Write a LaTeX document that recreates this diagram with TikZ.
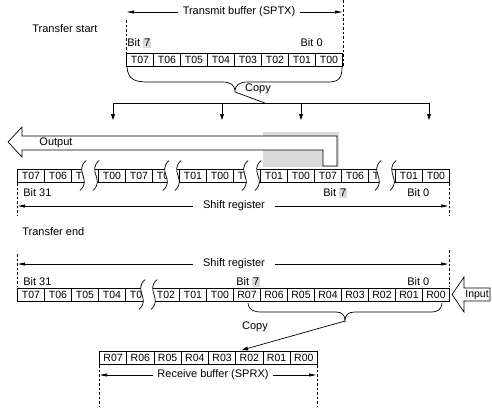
\documentclass[tikz,border=0pt]{standalone}
\usepackage{fontspec}
\setmainfont{Liberation Sans}
\usetikzlibrary{arrows.meta}

\definecolor{hlgray}{gray}{0.85}
\newcommand\hlbit[1]{{\setlength\fboxsep{0.8pt}\colorbox{hlgray}{#1}}}
% break in a register row: x of both cuts, y of the row
\newcommand\regbreak[3]{%
  \fill[white] ({#1+3},{#3-15}) .. controls ({#1-9},{#3-4}) and ({#1+9},{#3+4}) .. ({#1-3},{#3+15})
    -- ({#2-3},{#3+15}) .. controls ({#2+9},{#3+4}) and ({#2-9},{#3-4}) .. ({#2+3},{#3-15}) -- cycle;
  \draw ({#1+3},{#3-15}) .. controls ({#1-9},{#3-4}) and ({#1+9},{#3+4}) .. ({#1-3},{#3+15});
  \draw ({#2+3},{#3-15}) .. controls ({#2-9},{#3-4}) and ({#2+9},{#3+4}) .. ({#2-3},{#3+15});
}

\tikzset{
  cellbox/.style={draw, line width=1pt, inner sep=0pt, minimum width=27pt, minimum height=13pt,
    anchor=west, font=\fontsize{10.5}{12}\selectfont},
  lbl/.style={inner sep=0pt, font=\fontsize{11}{13}\selectfont},
  dimlab/.style={lbl, inner xsep=4pt},
  guide/.style={line width=0.7pt, dash pattern=on 2.5pt off 2pt},
  dimarrow/.style={-{Triangle[length=7pt,width=3pt]}},
  fanarrow/.style={-{Triangle[length=6pt,width=4pt]}},
}

\begin{document}
\begin{tikzpicture}[x=1pt,y=-1pt,line width=0.7pt]
\useasboundingbox (0,0) rectangle (492,407);

% transfer start
\node[lbl,anchor=west] (tstart) at (32,29) {Transfer start};

% transmit buffer
\foreach \lab [count=\i from 0] in {T07,T06,T05,T04,T03,T02,T01,T00}
  \node[cellbox] (tx\i) at ({126+27*\i},59.5) {\lab};
\draw[guide] (126,20) -- (126,67);
\draw[guide] (343,0) -- (343,66);
\coordinate (txL) at (127,12);
\coordinate (txR) at (342,12);
\node[dimlab] (txlab) at (239,12) {Transmit buffer (SPTX)};
\draw[dimarrow] (txlab) -- (txL);
\draw[dimarrow] (txlab) -- (txR);
\node[lbl,anchor=west] (txb7) at (127,43) {Bit \hlbit{7}};
\node[lbl,anchor=east] (txb0) at (323,43) {Bit 0};

% copy into the register
\coordinate (cpA) at (235,92);
\draw (127,67) .. controls (128,79) and (134,82) .. (148,82) -- (222,82)
  .. controls (231,82) and (235,85) .. (cpA) .. controls (235,85) and (239,82) .. (248,82)
  -- (328,82) .. controls (339,82) and (342,78) .. (342,67);
\node[lbl] (cp1) at (258,89) {Copy};
\coordinate (fan) at (265,103);
\draw (cpA) -- (fan);
\draw (113,103) -- (429,103);
\foreach \x [count=\k] in {113,222,301,429} {
  \coordinate (fa\k) at (\x,103);
  \coordinate (fb\k) at (\x,120);
  \draw[fanarrow] (fa\k) -- (fb\k);
}

% output
\fill[hlgray] (263,132) rectangle (339,167);
\draw[fill=white] (8,142) -- (22,127) -- (22,136) -- (337,136) -- (337,166) -- (323,166)
  -- (323,150) -- (22,150) -- (22,157) -- cycle;
\node[lbl] (outlab) at (56,143) {Output};

% shift register, transfer start
\foreach \lab [count=\i from 0] in {T07,T06,T05,T00,T07,T06,T01,T00,T07,T01,T00,T07,T06,T05,T01,T00}
  \node[cellbox] (sa\i) at ({17+27*\i},175.5) {\lab};
\regbreak{83}{96}{175.5}
\regbreak{166}{178}{175.5}
\regbreak{245}{258}{175.5}
\regbreak{378}{393}{175.5}
\node[lbl,anchor=west] (sab31) at (23,193) {Bit 31};
\node[lbl,anchor=west] (sab7) at (323,193) {Bit \hlbit{7}};
\node[lbl,anchor=west] (sab0) at (407,193) {Bit 0};
\draw[guide] (17,183) -- (17,216);
\draw[guide] (449,183) -- (449,216);
\coordinate (saL) at (18,206);
\coordinate (saR) at (448,206);
\node[dimlab,inner xsep=10pt] (salab) at (234,206) {Shift register};
\draw[dimarrow] (salab) -- (saL);
\draw[dimarrow] (salab) -- (saR);

% transfer end
\node[lbl,anchor=west] (tend) at (22,232) {Transfer end};

% shift register, transfer end
\draw[guide] (17,254) -- (17,287);
\draw[guide] (449,250) -- (449,287);
\coordinate (sbL) at (18,264);
\coordinate (sbR) at (448,264);
\node[dimlab,inner xsep=10pt] (sblab) at (234,264) {Shift register};
\draw[dimarrow] (sblab) -- (sbL);
\draw[dimarrow] (sblab) -- (sbR);
\node[lbl,anchor=west] (sbb31) at (23,282) {Bit 31};
\node[lbl,anchor=west] (sbb7) at (236,282) {Bit \hlbit{7}};
\node[lbl,anchor=west] (sbb0) at (407,282) {Bit 0};
\foreach \lab [count=\i from 0] in {T07,T06,T05,T04,T03,T02,T01,T00,R07,R06,R05,R04,R03,R02,R01,R00}
  \node[cellbox] (sb\i) at ({17+27*\i},294.5) {\lab};
\regbreak{142}{154}{294.5}

% input
\draw (452,294.5) -- (464,277) -- (464,288) -- (490,288) -- (490,301) -- (464,301) -- (464,312) -- cycle;
\node[lbl,font=\fontsize{10.5}{12}\selectfont] (inlab) at (477,294.5) {Input};

% copy into the receive buffer
\coordinate (cpB) at (345,321);
\draw (248,303) .. controls (249,310) and (253,312) .. (262,312) -- (336,312)
  .. controls (342,312) and (345,315) .. (cpB) .. controls (345,315) and (348,312) .. (355,312)
  -- (430,312) .. controls (438,312) and (441,310) .. (442,303);
\node[lbl] (cp2) at (255,327) {Copy};
\coordinate (rxin) at (242,350);
\draw[fanarrow] (cpB) -- (rxin);

% receive buffer
\foreach \lab [count=\i from 0] in {R07,R06,R05,R04,R03,R02,R01,R00}
  \node[cellbox,minimum width=27.25pt] (rx\i) at ({99+27.25*\i},357.5) {\lab};
\draw[guide] (99,365) -- (99,407);
\draw[guide] (317,365) -- (317,407);
\coordinate (rxL) at (100,375);
\coordinate (rxR) at (316,375);
\node[dimlab] (rxlab) at (213,375) {Receive buffer (SPRX)};
\draw[dimarrow] (rxlab) -- (rxL);
\draw[dimarrow] (rxlab) -- (rxR);
\end{tikzpicture}
\end{document}
